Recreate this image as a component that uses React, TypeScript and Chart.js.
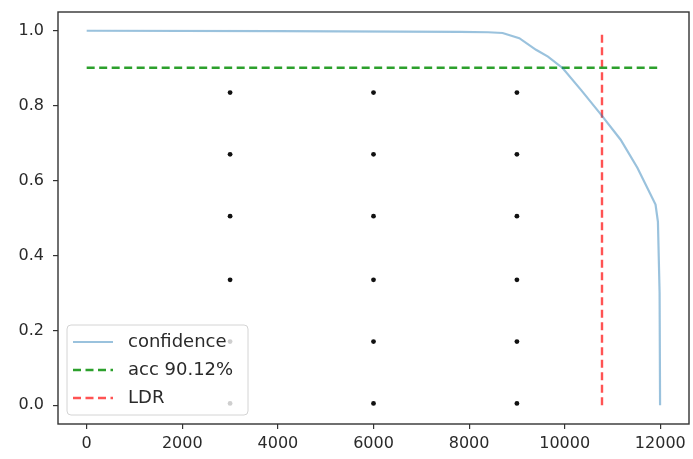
import React, { useEffect, useRef } from "react";
import { Chart, registerables } from "chart.js";

Chart.register(...registerables);

const xTicks = [0, 2000, 4000, 6000, 8000, 10000, 12000];
const yTicks = [0, 0.2, 0.4, 0.6, 0.8, 1.0];

const seriesLabels = ["confidence", "acc 90.12%", "LDR"];

const confX = [0, 4000, 7800, 8400, 8700, 9050, 9400, 9650, 9960, 10340, 10760, 11170, 11520, 11900, 11950, 11985, 11995];
const confY = [1.0, 0.999, 0.997, 0.996, 0.994, 0.98, 0.949, 0.931, 0.9, 0.842, 0.776, 0.709, 0.634, 0.536, 0.49, 0.3, 0.0];

const accX = [0, 12000];
const accY = [0.9012, 0.9012];

const ldrX = [10780, 10780];
const ldrY = [0.0, 1.0];

const dotX = [3000, 3000, 3000, 3000, 3000, 3000, 6000, 6000, 6000, 6000, 6000, 6000, 9000, 9000, 9000, 9000, 9000, 9000];
const dotY = [0.835, 0.67, 0.505, 0.335, 0.17, 0.005, 0.835, 0.67, 0.505, 0.335, 0.17, 0.005, 0.835, 0.67, 0.505, 0.335, 0.17, 0.005];

const FONT = "'DejaVu Sans', sans-serif";
const TEXT = "#2a2a2a";
const AXIS = "#333333";
const BLUE = "rgba(31,119,180,0.45)";
const GREEN = "#2ca02c";
const RED = "rgba(255,40,40,0.8)";

const zip = (xs: number[], ys: number[]) => xs.map((x, i) => ({ x, y: ys[i] }));

const framePlugin = {
  id: "frame",
  afterDraw(chart: any) {
    const { ctx, chartArea } = chart;
    ctx.save();
    ctx.strokeStyle = AXIS;
    ctx.lineWidth = 1.4;
    ctx.strokeRect(chartArea.left, chartArea.top, chartArea.right - chartArea.left, chartArea.bottom - chartArea.top);
    ctx.restore();

    // legend
    const bx = 67, by = 325, bw = 181, bh = 90, r = 4;
    ctx.save();
    ctx.beginPath();
    ctx.moveTo(bx + r, by);
    ctx.lineTo(bx + bw - r, by);
    ctx.quadraticCurveTo(bx + bw, by, bx + bw, by + r);
    ctx.lineTo(bx + bw, by + bh - r);
    ctx.quadraticCurveTo(bx + bw, by + bh, bx + bw - r, by + bh);
    ctx.lineTo(bx + r, by + bh);
    ctx.quadraticCurveTo(bx, by + bh, bx, by + bh - r);
    ctx.lineTo(bx, by + r);
    ctx.quadraticCurveTo(bx, by, bx + r, by);
    ctx.closePath();
    ctx.fillStyle = "rgba(255,255,255,0.8)";
    ctx.fill();
    ctx.strokeStyle = "#d4d4d4";
    ctx.lineWidth = 1;
    ctx.stroke();
    const ds = chart.data.datasets;
    for (let i = 0; i < 3; i++) {
      const y = 342 + i * 28;
      ctx.beginPath();
      ctx.strokeStyle = ds[i].borderColor;
      ctx.lineWidth = ds[i].borderWidth;
      ctx.setLineDash(ds[i].borderDash || []);
      ctx.moveTo(73, y);
      ctx.lineTo(113, y);
      ctx.stroke();
      ctx.setLineDash([]);
      ctx.fillStyle = TEXT;
      ctx.font = `18px ${FONT}`;
      ctx.textBaseline = "middle";
      ctx.textAlign = "left";
      ctx.fillText(ds[i].label, 128, y);
    }
    ctx.restore();
  },
};

export default function App() {
  const ref = useRef<HTMLCanvasElement | null>(null);
  useEffect(() => {
    if (!ref.current) return;
    const chart = new Chart(ref.current, {
      type: "scatter",
      data: {
        datasets: [
          {
            label: seriesLabels[0],
            data: zip(confX, confY),
            showLine: true,
            borderColor: BLUE,
            borderWidth: 2.2,
            pointRadius: 0,
            fill: false,
          },
          {
            label: seriesLabels[1],
            data: zip(accX, accY),
            showLine: true,
            borderColor: GREEN,
            borderWidth: 2.4,
            borderDash: [8, 4.5],
            pointRadius: 0,
          },
          {
            label: seriesLabels[2],
            data: zip(ldrX, ldrY),
            showLine: true,
            borderColor: RED,
            borderWidth: 2.4,
            borderDash: [8, 4.5],
            pointRadius: 0,
          },
          {
            label: "dots",
            data: zip(dotX, dotY),
            showLine: false,
            pointRadius: 2.4,
            pointBorderWidth: 0,
            backgroundColor: "#111",
            borderColor: "#111",
          },
        ],
      } as any,
      options: {
        animation: false,
        responsive: false,
        layout: { padding: { left: 0, top: 12, right: 1, bottom: 0 } },
        plugins: { legend: { display: false }, tooltip: { enabled: false } },
        scales: {
          x: {
            type: "linear",
            min: -600,
            max: 12600,
            border: { display: false },
            grid: { drawOnChartArea: false, drawTicks: true, tickLength: 5, color: AXIS, lineWidth: 1.2 },
            ticks: {
              color: TEXT,
              font: { family: FONT, size: 16 },
              padding: 5,
              maxRotation: 0,
              callback: (v: any) => String(v),
            },
            afterBuildTicks: (s: any) => {
              s.ticks = xTicks.map((v) => ({ value: v }));
            },
            afterFit: (s: any) => {
              s.height = 35;
              s.paddingLeft = 0;
              s.paddingRight = 0;
              s.paddingTop = 0;
              s.paddingBottom = 0;
            },
          },
          y: {
            type: "linear",
            min: -0.05,
            max: 1.05,
            border: { display: false },
            grid: { drawOnChartArea: false, drawTicks: true, tickLength: 5, color: AXIS, lineWidth: 1.2 },
            ticks: {
              color: TEXT,
              font: { family: FONT, size: 16 },
              padding: 9,
              callback: (v: any) => Number(v).toFixed(1),
            },
            afterBuildTicks: (s: any) => {
              s.ticks = yTicks.map((v) => ({ value: v }));
            },
            afterFit: (s: any) => {
              s.width = 58;
              s.paddingLeft = 0;
              s.paddingRight = 0;
              s.paddingTop = 0;
              s.paddingBottom = 0;
            },
          },
        },
      } as any,
      plugins: [framePlugin],
    });
    return () => chart.destroy();
  }, []);
  return (
    <canvas
      ref={ref}
      width={693}
      height={459}
      style={{ position: "absolute", left: 0, top: 0, width: 693, height: 459, display: "block" }}
    />
  );
}
